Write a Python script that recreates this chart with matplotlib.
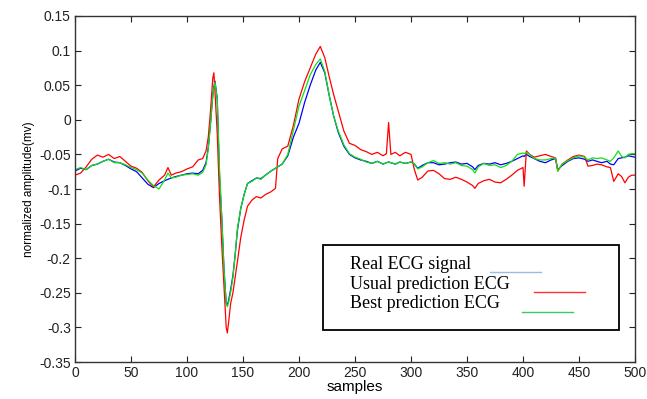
import matplotlib
matplotlib.use('Agg')
import matplotlib.pyplot as plt
from matplotlib.lines import Line2D
from matplotlib.patches import Rectangle

plt.rcParams['font.family'] = ['Liberation Sans', 'DejaVu Sans']
plt.rcParams['axes.unicode_minus'] = False

# ----- values -----
samples = [0, 5, 10, 15, 20, 25, 30, 35, 40, 45, 50, 55, 60, 65, 70, 75, 80, 83, 86, 90,
           95, 100, 105, 110, 114, 117, 119, 121, 123, 124, 125, 127, 129, 131, 133, 135, 136,
           137, 139, 141, 143, 145, 148, 151, 154, 158, 162, 166, 170, 175, 179, 181, 185,
           190, 195, 200, 205, 210, 215, 219, 223, 227, 231, 235, 240, 245, 250, 255, 260,
           265, 270, 275, 278, 280, 282, 286, 290, 295, 300, 303, 306, 310, 315, 320, 325,
           330, 335, 340, 345, 350, 355, 357, 360, 365, 370, 375, 380, 385, 390, 395, 400,
           401, 403, 406, 410, 415, 420, 425, 429, 431, 435, 440, 445, 450, 455, 458, 462,
           466, 470, 475, 478, 481, 485, 488, 491, 494, 497, 500]

real_ecg = [-0.074, -0.070, -0.072, -0.066, -0.064, -0.060, -0.057, -0.061, -0.062, -0.066,
            -0.071, -0.075, -0.084, -0.093, -0.098, -0.092, -0.088, -0.086, -0.084, -0.082,
            -0.080, -0.078, -0.077, -0.078, -0.073, -0.062, -0.040, -0.005, 0.035, 0.048,
            0.056, 0.030, -0.080, -0.140, -0.215, -0.265, -0.268,
            -0.262, -0.245, -0.225, -0.195, -0.160, -0.128, -0.108, -0.092, -0.088, -0.084,
            -0.085, -0.080, -0.074, -0.070, -0.068, -0.064,
            -0.052, -0.025, -0.005, 0.025, 0.050, 0.072, 0.083, 0.068, 0.035, 0.005,
            -0.018, -0.038, -0.050, -0.055, -0.058, -0.060,
            -0.063, -0.060, -0.064, -0.062, -0.061, -0.062, -0.064, -0.061, -0.063, -0.061,
            -0.064, -0.070, -0.066, -0.062, -0.062, -0.065,
            -0.064, -0.062, -0.061, -0.064, -0.063, -0.068, -0.072, -0.066, -0.063, -0.064,
            -0.062, -0.065, -0.063, -0.060, -0.056, -0.052,
            -0.053, -0.050, -0.053, -0.056, -0.060, -0.062, -0.058, -0.056, -0.072, -0.066,
            -0.060, -0.056, -0.055, -0.057, -0.060, -0.058,
            -0.060, -0.062, -0.060, -0.064, -0.065, -0.056, -0.055, -0.054, -0.052, -0.053, -0.054]

usual_pred = [-0.080, -0.077, -0.068, -0.057, -0.051, -0.054, -0.050, -0.056, -0.053, -0.060,
              -0.067, -0.070, -0.076, -0.088, -0.097, -0.087, -0.080, -0.069, -0.080, -0.077,
              -0.075, -0.071, -0.068, -0.058, -0.056, -0.045, -0.025, 0.013, 0.060, 0.068,
              0.040, -0.020, -0.110, -0.180, -0.240, -0.300, -0.308,
              -0.295, -0.265, -0.250, -0.228, -0.205, -0.170, -0.145, -0.125, -0.116, -0.111,
              -0.113, -0.108, -0.104, -0.099, -0.056, -0.042,
              -0.038, -0.008, 0.030, 0.055, 0.075, 0.095, 0.106, 0.090, 0.062, 0.036,
              0.013, -0.016, -0.034, -0.037, -0.043, -0.046,
              -0.050, -0.047, -0.052, -0.049, -0.004, -0.050, -0.047, -0.052, -0.047, -0.050,
              -0.072, -0.087, -0.083, -0.074, -0.073, -0.078,
              -0.085, -0.086, -0.083, -0.086, -0.090, -0.095, -0.099, -0.092, -0.088, -0.086,
              -0.090, -0.091, -0.086, -0.080, -0.073, -0.069,
              -0.096, -0.045, -0.050, -0.054, -0.052, -0.050, -0.053, -0.055, -0.074, -0.064,
              -0.058, -0.053, -0.051, -0.053, -0.067, -0.066,
              -0.064, -0.065, -0.068, -0.069, -0.089, -0.078, -0.082, -0.091, -0.083, -0.080, -0.080]

best_pred = [-0.072, -0.069, -0.072, -0.066, -0.064, -0.060, -0.057, -0.062, -0.062, -0.065,
             -0.069, -0.072, -0.077, -0.087, -0.095, -0.100, -0.087, -0.077, -0.084, -0.083,
             -0.080, -0.079, -0.078, -0.080, -0.076, -0.065, -0.042, -0.005, 0.035, 0.046,
             0.054, 0.030, -0.070, -0.140, -0.215, -0.265, -0.270,
             -0.265, -0.249, -0.228, -0.195, -0.157, -0.128, -0.108, -0.092, -0.089, -0.084,
             -0.086, -0.080, -0.074, -0.070, -0.068, -0.064,
             -0.050, -0.015, 0.020, 0.042, 0.065, 0.080, 0.088, 0.070, 0.035, 0.005,
             -0.016, -0.036, -0.049, -0.054, -0.057, -0.061,
             -0.063, -0.060, -0.064, -0.062, -0.061, -0.062, -0.064, -0.061, -0.063, -0.061,
             -0.064, -0.071, -0.068, -0.062, -0.059, -0.063,
             -0.062, -0.064, -0.062, -0.066, -0.067, -0.072, -0.077, -0.068, -0.063, -0.066,
             -0.065, -0.069, -0.066, -0.060, -0.050, -0.048,
             -0.049, -0.047, -0.050, -0.056, -0.058, -0.058, -0.056, -0.055, -0.074, -0.064,
             -0.059, -0.055, -0.052, -0.054, -0.058, -0.055,
             -0.056, -0.055, -0.058, -0.060, -0.055, -0.045, -0.053, -0.055, -0.050, -0.049, -0.049]

x_ticks = [0, 50, 100, 150, 200, 250, 300, 350, 400, 450, 500]
y_ticks = [0.15, 0.1, 0.05, 0, -0.05, -0.1, -0.15, -0.2, -0.25, -0.3, -0.35]
y_tick_labels = ['0.15', '0.1', '0.05', '0', '-0.05', '-0.1', '-0.15', '-0.2', '-0.25', '-0.3', '-0.35']

legend_labels = ['Real ECG signal', 'Usual prediction ECG', 'Best prediction ECG']

# ----- figure -----
fig = plt.figure(figsize=(6.47, 3.99), dpi=100)
ax = fig.add_axes([0.1159, 0.0927, 0.8656, 0.8672])

ax.plot(samples, real_ecg, color='#0000ff', linewidth=0.9)
ax.plot(samples, usual_pred, color='#ff0000', linewidth=0.9)
ax.plot(samples, best_pred, color='#11e011', linewidth=0.9)

ax.set_xlim(0, 500)
ax.set_ylim(-0.35, 0.15)
ax.set_xticks(x_ticks)
ax.set_yticks(y_ticks)
ax.set_yticklabels(y_tick_labels)
ax.tick_params(direction='in', length=4, width=0.8, top=True, right=True,
               labelsize=10, colors='#222222', pad=3)
for sp in ax.spines.values():
    sp.set_color('#333333')
    sp.set_linewidth(1.0)

ax.set_xlabel('samples', fontsize=11, labelpad=0)
ax.set_ylabel('normalized amplitude(mv)', fontsize=8.5, labelpad=3)

# hand-drawn style legend box, text first then line sample
ax.add_patch(Rectangle((0.443, 0.092), 0.528, 0.246, transform=ax.transAxes,
                       facecolor='white', edgecolor='black', linewidth=1.3, zorder=5))
text_y = [0.283, 0.225, 0.168]
line_x = [(0.741, 0.832), (0.820, 0.911), (0.798, 0.889)]
line_y = [0.261, 0.203, 0.145]
sample_colors = ['#9bbbe3', '#ff3333', '#33cc66']
for lab, ty, lx, ly, c in zip(legend_labels, text_y, line_x, line_y, sample_colors):
    ax.text(0.491, ty, lab, transform=ax.transAxes, fontsize=13,
            family=['Liberation Serif', 'DejaVu Serif'], va='center', ha='left', zorder=6)
    ax.add_line(Line2D(lx, [ly, ly], transform=ax.transAxes, color=c,
                       linewidth=1.0, zorder=6))

fig.savefig('out.png', dpi=100)
